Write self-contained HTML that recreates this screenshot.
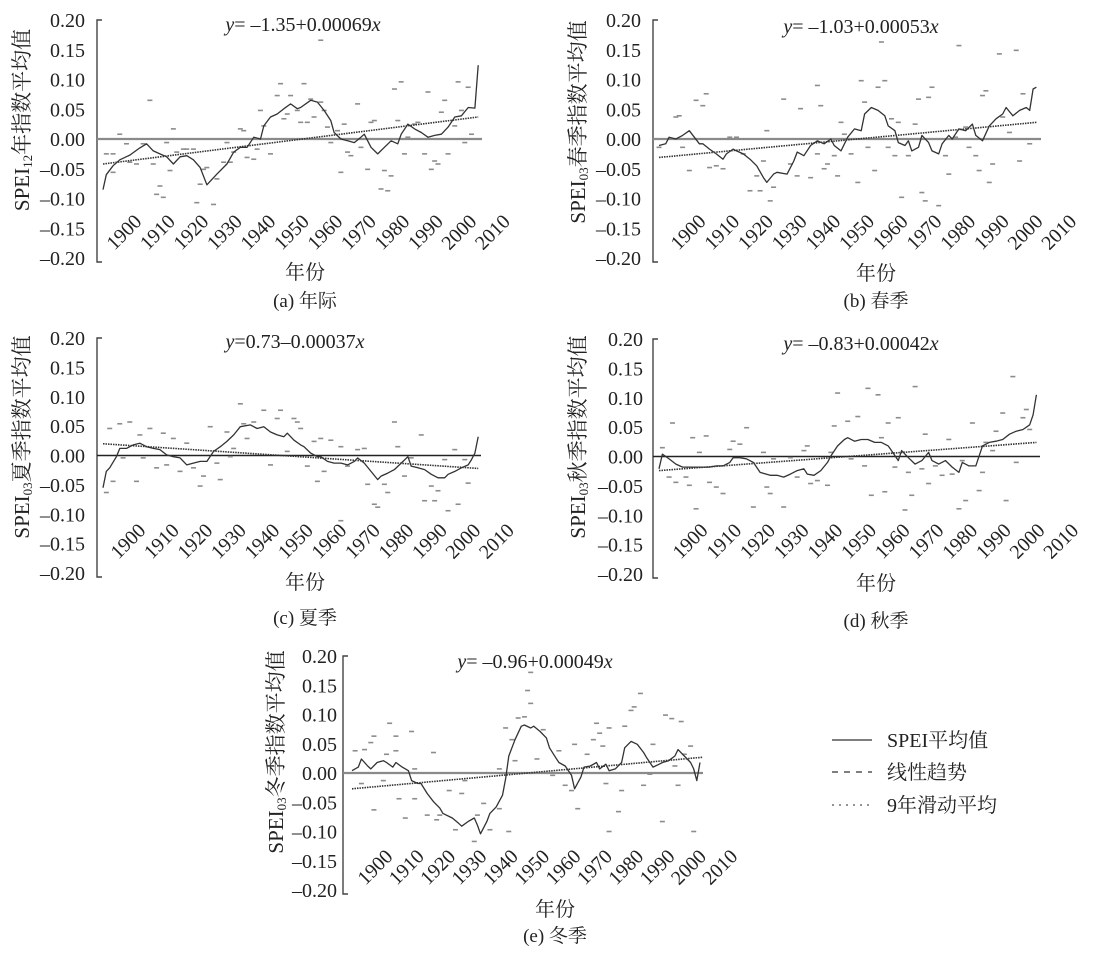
<!DOCTYPE html>
<html><head><meta charset="utf-8"><style>
html,body{margin:0;padding:0;background:#fff;}
svg{display:block;}
text{font-family:"Liberation Serif","Noto Serif CJK SC",serif;fill:#222;}
</style></head><body>
<svg id="chart" width="1112" height="956" viewBox="0 0 1112 956" xmlns="http://www.w3.org/2000/svg">
<g id="legend">
<line x1="832" y1="740" x2="872" y2="740" stroke="#333" stroke-width="1.3"/>
<text x="887" y="747" font-size="20">SPEI平均值</text>
<line x1="832" y1="772" x2="872" y2="772" stroke="#555" stroke-width="1.5" stroke-dasharray="6 6"/>
<text x="887" y="779" font-size="20">线性趋势</text>
<line x1="832" y1="805" x2="872" y2="805" stroke="#555" stroke-width="1.3" stroke-dasharray="2 5"/>
<text x="887" y="812" font-size="20">9年滑动平均</text>
</g>
</svg>
<script>
// ---- data ----
const yTicks = [0.20, 0.15, 0.10, 0.05, 0.00, -0.05, -0.10, -0.15, -0.20];
const yTickLabels = ["0.20","0.15","0.10","0.05","0.00","\u20130.05","\u20130.10","\u20130.15","\u20130.20"];
const xTicks = [1900,1910,1920,1930,1940,1950,1960,1970,1980,1990,2000,2010];

const aCurveYears = [1891,1892,1894,1896,1899,1902,1904,1906,1908,1910,1912,1914,1916,1918,1920,1922,1925,1928,1930,1932,1934,1936,1938,1939,1941,1943,1945,1947,1949,1950,1953,1955,1957,1959,1960,1962,1964,1966,1968,1969,1971,1973,1975,1977,1979,1980,1982,1984,1986,1988,1990,1992,1994,1996,1998,2000,2002,2003];
const aCurveVals = [-0.085,-0.06,-0.045,-0.035,-0.027,-0.015,-0.008,-0.02,-0.025,-0.03,-0.042,-0.03,-0.028,-0.035,-0.048,-0.077,-0.059,-0.042,-0.022,-0.014,-0.014,0.003,0,0.022,0.037,0.042,0.051,0.059,0.051,0.053,0.065,0.062,0.048,0.031,0.011,0,-0.003,-0.006,0.003,0.008,-0.014,-0.025,-0.014,-0.003,-0.008,0.008,0.025,0.017,0.011,0.003,0.006,0.008,0.02,0.037,0.039,0.053,0.052,0.124];
const aScatYears = [1892,1894,1894,1896,1898,1899,1901,1903,1905,1906,1907,1908,1909,1910,1911,1912,1913,1915,1916,1918,1919,1920,1921,1922,1924,1925,1927,1928,1929,1930,1932,1933,1934,1936,1937,1938,1939,1941,1943,1944,1945,1946,1947,1949,1951,1950,1952,1953,1956,1954,1956,1957,1958,1959,1961,1962,1963,1964,1965,1967,1968,1970,1971,1972,1974,1975,1976,1977,1978,1979,1980,1981,1982,1984,1985,1987,1988,1989,1990,1991,1992,1993,1994,1996,1997,1998,1999,2000,2001];
const aScatVals = [-0.025,-0.025,-0.056,0.008,-0.008,-0.039,-0.042,-0.008,0.065,-0.042,-0.093,-0.079,-0.098,-0.006,-0.053,0.017,-0.022,-0.017,-0.017,-0.017,-0.107,-0.076,-0.051,-0.048,-0.11,-0.067,-0.039,-0.006,-0.039,-0.022,0.017,0.014,-0.031,-0.034,-0.017,0.048,0.022,-0.025,0.073,0.093,0.034,0.042,0.073,0.048,0.093,0.028,0.028,0.067,0.166,0.037,0.062,0.048,0.02,-0.006,0.014,-0.056,0.025,-0.022,-0.028,0.059,-0.014,-0.051,0.028,0.031,-0.084,-0.053,-0.087,-0.062,0.084,0.031,0.096,-0.025,0.003,0.025,0.028,-0.025,0.079,-0.051,-0.037,-0.042,0.045,0.065,-0.025,0.022,0.096,0.048,-0.006,0.087,0.008];
const aTrend = [-0.042, 0.037];

const bCurveYears = [1891,1893,1894,1896,1898,1900,1903,1904,1906,1908,1910,1911,1913,1914,1916,1918,1920,1922,1923,1925,1926,1929,1931,1932,1934,1936,1938,1940,1942,1943,1945,1947,1949,1951,1952,1954,1956,1958,1959,1961,1962,1964,1965,1966,1968,1969,1971,1972,1974,1975,1977,1978,1980,1982,1984,1985,1987,1989,1991,1993,1994,1996,1998,2000,2001,2002,2003];
const bCurveVals = [-0.011,-0.008,0.003,0,0.006,0.014,-0.008,-0.008,-0.017,-0.025,-0.034,-0.025,-0.017,-0.02,-0.025,-0.034,-0.045,-0.065,-0.073,-0.059,-0.056,-0.059,-0.037,-0.022,-0.028,-0.011,-0.003,-0.008,0,-0.011,-0.02,0.003,0.017,0.014,0.042,0.053,0.048,0.039,0.022,0.014,-0.006,-0.011,-0.003,-0.02,-0.014,0.006,-0.006,-0.02,-0.025,-0.008,0.006,0,0.017,0.014,0.025,0.006,-0.003,0.022,0.034,0.042,0.053,0.039,0.048,0.053,0.048,0.084,0.087];
const bScatYears = [1891,1896,1897,1898,1900,1902,1904,1905,1906,1908,1910,1912,1914,1916,1918,1920,1921,1922,1923,1924,1925,1928,1930,1932,1933,1936,1938,1938,1939,1940,1941,1943,1944,1945,1946,1948,1950,1951,1952,1953,1955,1956,1957,1958,1959,1960,1961,1962,1963,1965,1967,1968,1969,1970,1971,1972,1974,1976,1977,1979,1980,1982,1983,1985,1986,1987,1988,1989,1990,1992,1993,1995,1997,1998,1999,2001];
const bScatVals = [-0.014,0.037,0.039,-0.014,-0.053,0.065,0.056,0.076,-0.048,-0.045,-0.05,0.003,0.003,-0.025,-0.087,-0.062,-0.087,-0.037,0.014,-0.104,-0.081,0.067,-0.042,-0.062,0.051,-0.065,-0.025,0.09,0.056,-0.05,-0.042,-0.028,-0.062,0.028,0.008,-0.025,-0.073,0.098,0.062,-0.014,-0.053,0.087,0.163,0.098,-0.014,0.034,-0.028,0.028,-0.098,-0.028,0.025,0.067,-0.09,-0.104,0.07,0.087,-0.112,-0.028,-0.059,0.003,0.157,0.02,-0.014,-0.028,-0.053,0.073,0.081,-0.073,-0.042,0.143,0.037,0.011,0.149,-0.037,0.076,-0.008];
const bTrend = [-0.031, 0.028];

const cCurveYears = [1891,1892,1893,1895,1896,1898,1900,1902,1904,1906,1908,1910,1912,1914,1916,1918,1920,1922,1924,1926,1928,1930,1932,1935,1937,1939,1941,1943,1945,1946,1948,1950,1951,1953,1955,1956,1958,1960,1962,1964,1966,1967,1969,1971,1973,1974,1976,1978,1980,1982,1983,1985,1987,1989,1991,1993,1994,1996,1998,2000,2001,2002,2003];
const cCurveVals = [-0.055,-0.027,-0.021,-0.002,0.012,0.012,0.018,0.021,0.015,0.012,0.01,0.001,-0.002,-0.004,-0.016,-0.013,-0.01,-0.01,0.007,0.015,0.024,0.035,0.049,0.052,0.046,0.049,0.04,0.035,0.032,0.038,0.026,0.018,0.015,0.004,-0.002,-0.002,-0.01,-0.013,-0.013,-0.016,-0.01,-0.004,-0.013,-0.027,-0.041,-0.035,-0.03,-0.024,-0.013,-0.002,-0.018,-0.021,-0.024,-0.032,-0.038,-0.038,-0.032,-0.027,-0.021,-0.016,-0.007,0.004,0.032];
const cScatYears = [1892,1893,1894,1896,1897,1899,1901,1902,1903,1905,1907,1909,1910,1912,1914,1916,1918,1920,1921,1923,1925,1926,1928,1929,1930,1932,1933,1934,1936,1939,1941,1943,1944,1946,1948,1949,1950,1952,1954,1955,1956,1957,1959,1962,1962,1964,1967,1969,1970,1972,1973,1975,1976,1978,1979,1981,1983,1986,1987,1989,1990,1991,1993,1994,1996,1997,1999,2000];
const cScatVals = [-0.063,0.046,-0.044,0.054,-0.004,0.057,-0.044,0.035,-0.004,0.046,-0.021,0.038,-0.016,0.029,-0.027,0.021,-0.021,-0.052,-0.035,0.049,-0.013,-0.041,0.04,-0.002,0.012,0.088,0.054,0.029,0.057,0.077,-0.016,0.063,0.077,0.007,0.063,0.057,0.046,-0.018,0.024,-0.044,0.029,-0.027,0.026,-0.111,0.015,-0.018,0.01,0.012,-0.049,-0.083,-0.088,-0.049,-0.063,0.057,0.015,-0.035,-0.004,0.035,-0.077,-0.052,-0.077,-0.06,-0.007,-0.094,0.01,-0.083,-0.007,-0.047];
const cTrend = [0.02, -0.022];

const dCurveYears = [1891,1892,1894,1896,1898,1900,1902,1904,1906,1908,1910,1912,1913,1915,1917,1919,1921,1924,1926,1928,1930,1932,1934,1935,1937,1939,1941,1942,1944,1946,1947,1949,1951,1953,1955,1957,1959,1960,1962,1963,1965,1967,1969,1971,1972,1974,1976,1978,1980,1981,1983,1985,1987,1989,1991,1993,1995,1997,1999,2001,2002,2003];
const dCurveVals = [-0.021,0.004,-0.004,-0.013,-0.018,-0.018,-0.018,-0.018,-0.018,-0.016,-0.016,-0.01,-0.002,-0.002,-0.004,-0.01,-0.027,-0.032,-0.032,-0.035,-0.03,-0.024,-0.021,-0.03,-0.032,-0.024,-0.01,0.001,0.018,0.029,0.032,0.026,0.029,0.029,0.024,0.024,0.018,0.01,-0.007,0.01,-0.002,-0.013,-0.007,0.007,-0.007,-0.013,-0.007,-0.018,-0.027,-0.01,-0.016,-0.016,0.018,0.024,0.026,0.029,0.038,0.043,0.046,0.054,0.071,0.105];
const dScatYears = [1892,1895,1894,1896,1899,1900,1901,1902,1903,1905,1906,1908,1910,1912,1913,1915,1917,1919,1922,1923,1924,1925,1928,1930,1932,1934,1935,1936,1938,1941,1942,1943,1944,1947,1948,1950,1952,1953,1954,1956,1957,1958,1959,1961,1962,1964,1965,1966,1967,1969,1970,1971,1973,1975,1977,1978,1980,1981,1982,1984,1986,1987,1988,1990,1991,1993,1994,1996,1997,1999,2000,2001];
const dScatVals = [0.015,0.057,-0.035,-0.044,-0.035,-0.049,0.032,-0.089,0.007,0.035,-0.044,-0.052,-0.063,0.012,0.026,0.021,0.049,-0.086,0.007,-0.052,-0.063,-0.004,-0.086,-0.002,-0.035,0.01,0.018,-0.046,-0.041,-0.049,0.007,0.052,0.108,0.06,-0.004,0.068,-0.016,0.116,-0.066,0.105,0.032,-0.06,0.057,-0.018,0.066,-0.091,-0.027,-0.066,0.119,-0.021,0.038,-0.046,-0.016,-0.032,0.029,-0.03,-0.089,-0.007,-0.075,0.057,-0.058,-0.027,0.024,0.01,0.043,0.074,-0.075,0.136,-0.01,0.066,0.08,0.046];
const dTrend = [-0.024, 0.024];

const eCurveYears = [1891,1893,1894,1896,1897,1899,1901,1902,1904,1905,1907,1909,1910,1912,1913,1915,1917,1919,1920,1923,1925,1926,1928,1930,1931,1932,1934,1935,1937,1939,1940,1941,1943,1945,1946,1948,1949,1951,1953,1954,1956,1957,1959,1961,1962,1964,1965,1967,1969,1970,1972,1973,1975,1977,1978,1980,1982,1984,1985,1987,1989,1990,1992,1994,1995,1997,1999,2000,2001,2002];
const eCurveVals = [0.004,0.01,0.024,0.012,0.007,0.018,0.021,0.018,0.01,0.018,0.01,0.004,-0.013,-0.018,-0.018,-0.035,-0.049,-0.06,-0.069,-0.077,-0.086,-0.091,-0.083,-0.077,-0.089,-0.104,-0.083,-0.069,-0.058,-0.038,-0.01,0.029,0.057,0.08,0.082,0.077,0.08,0.071,0.06,0.043,0.026,0.018,0.012,-0.004,-0.027,-0.007,0.01,0.012,0.018,0.007,0.015,0.004,0.007,0.018,0.043,0.054,0.049,0.035,0.026,0.01,0.015,0.018,0.021,0.029,0.04,0.029,0.018,0.007,-0.013,0.018];
const eScatYears = [1892,1894,1895,1897,1898,1898,1901,1902,1903,1905,1905,1906,1908,1910,1911,1911,1915,1917,1918,1919,1922,1924,1926,1927,1930,1931,1933,1935,1938,1938,1940,1941,1942,1943,1944,1946,1947,1948,1948,1950,1952,1955,1957,1959,1961,1962,1963,1966,1968,1969,1970,1971,1972,1973,1973,1976,1977,1978,1980,1981,1983,1984,1986,1987,1990,1991,1993,1994,1995,1996,1997,1999,2000];
const eScatVals = [0.038,-0.018,0.04,0.052,0.063,-0.063,-0.013,0.032,0.085,0.038,0.063,-0.044,-0.077,0.071,-0.044,0.007,-0.072,0.035,-0.08,-0.072,-0.03,-0.097,-0.035,-0.013,-0.117,-0.072,-0.052,-0.097,0.007,-0.061,0.077,-0.1,0.057,0.021,0.094,0.096,0.141,0.119,0.172,0.024,0.074,-0.004,0.038,-0.021,-0.03,0.049,-0.061,0.032,0.057,0.085,0.068,0.046,-0.018,0.077,-0.1,-0.066,-0.03,0.08,0.107,0.113,0.136,-0.021,-0.002,0.049,-0.083,0.099,0.093,0.012,-0.021,0.088,0.032,0.046,-0.1];
const eTrend = [-0.027, 0.027];

// ---- layout (not data) ----
const NS = "http://www.w3.org/2000/svg";
const svg = document.getElementById("chart");
const panels = [
 {key:"a", cy:aCurveYears, cv:aCurveVals, sy:aScatYears, sv:aScatVals, tr:aTrend, axisX:97, yTop:20, yBot:258, x0:103, k:3.35, dx:0, tickY:213, zeroEnd:482, zeroCol:"#8a8a8a", zeroW:2.2, lblRight:85,
  eq:["y","= \u20131.35+0.00069","x"], eqX:303, eqY:31, titleX:22, titleY:120, sub:"12", tname:"年指数平均值", xtX:305, xtY:279, cap:"(a) 年际", capY:307},
 {key:"b", cy:bCurveYears, cv:bCurveVals, sy:bScatYears, sv:bScatVals, tr:bTrend, axisX:653, yTop:20, yBot:258, x0:659, k:3.37, dx:8, tickY:213, zeroEnd:1041, zeroCol:"#8a8a8a", zeroW:2.2, lblRight:641,
  eq:["y","= \u20131.03+0.00053","x"], eqX:861, eqY:33, titleX:578, titleY:122, sub:"03", tname:"春季指数平均值", xtX:876, xtY:280, cap:"(b) 春季", capY:307},
 {key:"c", cy:cCurveYears, cv:cCurveVals, sy:cScatYears, sv:cScatVals, tr:cTrend, axisX:97, yTop:338, yBot:573, x0:103, k:3.35, dx:4, tickY:522, zeroEnd:481, zeroCol:"#222", zeroW:1.5, lblRight:85,
  eq:["y","=0.73\u20130.00037","x"], eqX:295, eqY:348, titleX:22, titleY:437, sub:"03", tname:"夏季指数平均值", xtX:305, xtY:589, cap:"(c) 夏季", capY:624},
 {key:"d", cy:dCurveYears, cv:dCurveVals, sy:dScatYears, sv:dScatVals, tr:dTrend, axisX:653, yTop:339, yBot:574, x0:659, k:3.37, dx:10, tickY:522, zeroEnd:1040, zeroCol:"#222", zeroW:1.5, lblRight:643,
  eq:["y","= \u20130.83+0.00042","x"], eqX:861, eqY:350, titleX:578, titleY:437, sub:"03", tname:"秋季指数平均值", xtX:876, xtY:590, cap:"(d) 秋季", capY:627},
 {key:"e", cy:eCurveYears, cv:eCurveVals, sy:eScatYears, sv:eScatVals, tr:eTrend, axisX:343, yTop:656, yBot:890, x0:352, k:3.135, dx:4, tickY:848, zeroEnd:703, zeroCol:"#8a8a8a", zeroW:2.2, lblRight:337,
  eq:["y","= \u20130.96+0.00049","x"], eqX:535, eqY:668, titleX:276, titleY:752, sub:"03", tname:"冬季指数平均值", xtX:555, xtY:916, cap:"(e) 冬季", capY:942}
];

function mk(tag, attrs, parent){ const el=document.createElementNS(NS,tag); for(const k in attrs) el.setAttribute(k,attrs[k]); (parent||svg).appendChild(el); return el; }

panels.forEach(p=>{
  const xS = yr => p.x0 + (yr - 1891) * p.k;
  const zero = (p.yTop + p.yBot) / 2;
  const yS = v => zero - v * (p.yBot - p.yTop) / 0.4;
  const g = mk("g", {});
  
  

  // y axis
  const ax = mk("path", {d:`M${p.axisX+5},${p.yTop} H${p.axisX} V${p.yBot+4} H${p.axisX+5}`, fill:"none", stroke:"#444", "stroke-width":1.4}, g);
  
  
  yTicks.forEach((v,i)=>{
    const t = mk("text", {x:p.lblRight, y:yS(v)+7, "text-anchor":"end", "font-size":20}, g);
    t.textContent = yTickLabels[i];
    
    
  });
  // x tick labels
  xTicks.forEach(yr=>{
    const x = xS(yr) + p.dx;
    const t = mk("text", {x:x, y:p.tickY, "text-anchor":"end", "dominant-baseline":"hanging", "font-size":20, transform:`rotate(-45 ${x} ${p.tickY})`}, g);
    t.textContent = yr;
    
    
  });
  // zero line
  const zl = mk("line", {x1:p.axisX, y1:yS(0), x2:p.zeroEnd, y2:yS(0), stroke:p.zeroCol, "stroke-width":p.zeroW}, g);
  
  
  // scatter dashes
  const n = Math.min(p.sy.length, p.sv.length);
  for(let i=0;i<n;i++){
    const x = xS(p.sy[i]), y = yS(p.sv[i]);
    const d = mk("line", {x1:x-2.5, y1:y, x2:x+2.5, y2:y, stroke:"#8c8c8c", "stroke-width":1.6}, g);
    
    
  }
  // trend line
  const tl = mk("line", {x1:xS(1891), y1:yS(p.tr[0]), x2:xS(2003), y2:yS(p.tr[1]), stroke:"#333", "stroke-width":1.6, "stroke-dasharray":"1.5 1"}, g);
  
  
  // moving average curve
  const m = Math.min(p.cy.length, p.cv.length);
  let pts = [];
  for(let i=0;i<m;i++) pts.push(xS(p.cy[i]).toFixed(1)+","+yS(p.cv[i]).toFixed(1));
  const pl = mk("polyline", {points:pts.join(" "), fill:"none", stroke:"#333", "stroke-width":1.3, "stroke-linejoin":"round"}, g);
  
  
  // equation
  const eq = mk("text", {x:p.eqX, y:p.eqY, "text-anchor":"middle", "font-size":20}, g);
  
  
  const t1 = mk("tspan", {"font-style":"italic"}, eq); t1.textContent = p.eq[0];
  const t2 = mk("tspan", {}, eq); t2.textContent = p.eq[1];
  const t3 = mk("tspan", {"font-style":"italic"}, eq); t3.textContent = p.eq[2];
  // y title
  const yt = mk("text", {x:p.titleX, y:p.titleY, "text-anchor":"middle", "dominant-baseline":"central", "font-size":21, transform:`rotate(-90 ${p.titleX} ${p.titleY})`}, g);
  
  
  const s1 = mk("tspan", {}, yt); s1.textContent = "SPEI";
  const s2 = mk("tspan", {"font-size":13, dy:5}, yt); s2.textContent = p.sub;
  const s3 = mk("tspan", {dy:-5}, yt); s3.textContent = p.tname;
  // x title & caption
  const xt = mk("text", {x:p.xtX, y:p.xtY, "text-anchor":"middle", "font-size":20}, g);
  xt.textContent = "年份";
  
  
  const cp = mk("text", {x:p.xtX, y:p.capY, "text-anchor":"middle", "font-size":19}, g);
  cp.textContent = p.cap;
  
  
});
</script>
</body></html>
